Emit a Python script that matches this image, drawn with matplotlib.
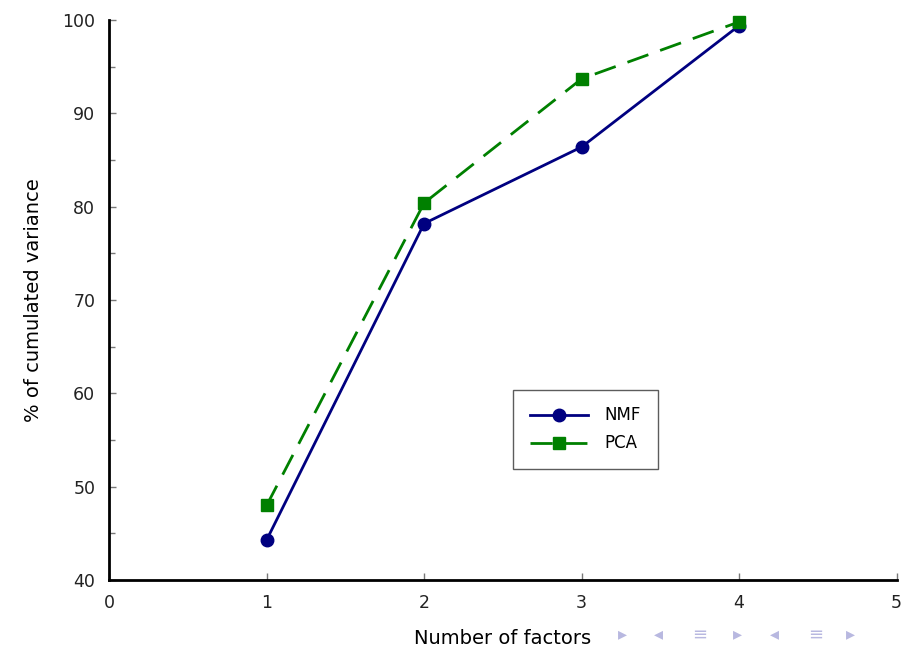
import matplotlib
matplotlib.use("Agg")
import matplotlib.pyplot as plt
from matplotlib.ticker import MultipleLocator

# data
factors = [1, 2, 3, 4]
nmf = [44.3, 78.2, 86.4, 99.4]
pca = [48.0, 80.4, 93.7, 99.8]

plt.rcParams['font.family'] = ['DejaVu Sans']

fig = plt.figure(figsize=(9.02, 6.46), dpi=100)
ax = fig.add_axes([0.121, 0.102, 0.873, 0.867])

ax.plot(factors, nmf, color='#000080', lw=2.0, marker='o', markersize=9,
        label='NMF', clip_on=False, zorder=3)
ax.plot(factors, pca, color='#008000', lw=2.0, ls=(0, (8, 4.5)), marker='s',
        markersize=8, label='PCA', clip_on=False, zorder=4)

ax.set_xlim(0, 5)
ax.set_ylim(40, 100)
ax.xaxis.set_major_locator(MultipleLocator(1))
ax.yaxis.set_major_locator(MultipleLocator(10))
ax.yaxis.set_minor_locator(MultipleLocator(5))

for s in ['top', 'right']:
    ax.spines[s].set_visible(False)
for s in ['left', 'bottom']:
    ax.spines[s].set_linewidth(2)

ax.tick_params(axis='both', which='both', direction='in', color='#777777',
               labelcolor='#222222', labelsize=12.5, width=1)
ax.tick_params(axis='both', which='major', length=5)
ax.tick_params(axis='y', which='minor', length=4)
ax.tick_params(axis='x', pad=10)
ax.tick_params(axis='y', pad=10)
ax.set_xticks([], minor=True)

ax.set_xlabel('Number of factors', fontsize=14, labelpad=12)
ax.set_ylabel('% of cumulated variance', fontsize=14, labelpad=14)

leg = ax.legend(loc='center', bbox_to_anchor=(585.5 / 902, 1 - 429.5 / 646),
                bbox_transform=fig.transFigure, fancybox=False, edgecolor='#333333',
                fontsize=12, handlelength=3.5, borderpad=1.0, labelspacing=0.6,
                handletextpad=1.0, borderaxespad=0)
leg.get_frame().set_linewidth(1)

# beamer navigation symbols at the bottom (those clear of the axis label)
nav_color = '#b8b8e0'
nav = [(0.69, '▸'), (0.73, '◂'), (0.776, '≡'), (0.818, '▸'), (0.859, '◂'),
       (0.904, '≡'), (0.943, '▸')]
for xpos, sym in nav:
    fig.text(xpos, 0.018, sym, color=nav_color, fontsize=13, ha='center',
             va='center', zorder=0)

fig.savefig('out.png', dpi=100)
